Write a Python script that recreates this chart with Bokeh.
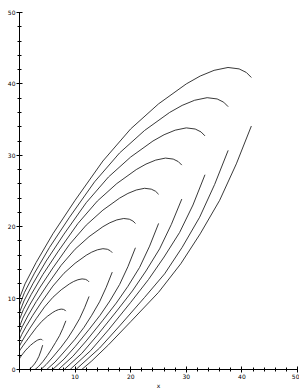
from bokeh.plotting import figure
from bokeh.models import Range1d, SingleIntervalTicker
from bokeh.embed import file_html
from bokeh.resources import INLINE

# Upper family of curves (start on the y axis, peak, then turn down)
upper_x = [
    [0, 0.1, 0.3, 0.6, 1.0, 1.5, 2.0, 2.5, 3.0, 3.25, 3.5, 3.75, 3.95, 4.08, 4.17],
    [0, 0.2, 0.6, 1.2, 2, 3, 4, 5, 6, 6.5, 7, 7.5, 7.9, 8.16, 8.34],
    [0, 0.3, 0.9, 1.8, 3, 4.5, 6, 7.5, 9, 9.75, 10.5, 11.25, 11.85, 12.24, 12.51],
    [0, 0.4, 1.2, 2.4, 4, 6, 8, 10, 12, 13, 14, 15, 15.8, 16.32, 16.68],
    [0, 0.5, 1.5, 3, 5, 7.5, 10, 12.5, 15, 16.25, 17.5, 18.75, 19.75, 20.4, 20.85],
    [0, 0.6, 1.8, 3.6, 6, 9, 12, 15, 18, 19.5, 21, 22.5, 23.7, 24.48, 25.02],
    [0, 0.7, 2.1, 4.2, 7, 10.5, 14, 17.5, 21, 22.75, 24.5, 26.25, 27.65, 28.56, 29.19],
    [0, 0.8, 2.4, 4.8, 8, 12, 16, 20, 24, 26, 28, 30, 31.6, 32.64, 33.36],
    [0, 0.9, 2.7, 5.4, 9, 13.5, 18, 22.5, 27, 29.25, 31.5, 33.75, 35.55, 36.72, 37.53],
    [0, 1, 3, 6, 10, 15, 20, 25, 30, 32.5, 35, 37.5, 39.5, 40.8, 41.7],
]
upper_y = [
    [1.5, 1.65, 1.9, 2.2, 2.6, 3.02, 3.4, 3.72, 4.0, 4.11, 4.19, 4.23, 4.21, 4.16, 4.09],
    [2.6, 2.85, 3.3, 3.95, 4.8, 5.84, 6.74, 7.44, 8, 8.22, 8.38, 8.46, 8.42, 8.32, 8.18],
    [3.3, 3.75, 4.55, 5.7, 7.11, 8.76, 10.11, 11.16, 12, 12.33, 12.57, 12.69, 12.63, 12.48, 12.27],
    [4.2, 4.9, 6.05, 7.6, 9.48, 11.68, 13.48, 14.88, 16, 16.44, 16.76, 16.92, 16.84, 16.64, 16.36],
    [5.1, 6.0, 7.5, 9.5, 11.85, 14.6, 16.85, 18.6, 20, 20.55, 20.95, 21.15, 21.05, 20.8, 20.45],
    [6, 7.2, 9, 11.4, 14.22, 17.52, 20.22, 22.32, 24, 24.66, 25.14, 25.38, 25.26, 24.96, 24.54],
    [7, 8.4, 10.5, 13.3, 16.59, 20.44, 23.59, 26.04, 28, 28.77, 29.33, 29.61, 29.47, 29.12, 28.63],
    [8, 9.6, 12, 15.2, 18.96, 23.36, 26.96, 29.76, 32, 32.88, 33.52, 33.84, 33.68, 33.28, 32.72],
    [9, 10.8, 13.5, 17.1, 21.33, 26.28, 30.33, 33.48, 36, 36.99, 37.71, 38.07, 37.89, 37.44, 36.81],
    [10, 12, 15, 19, 23.7, 29.2, 33.7, 37.2, 40, 41.1, 41.9, 42.3, 42.1, 41.6, 40.9],
]

# Lower family of curves (start on the x axis, bend upward)
lower_x = [
    [1.75, 2.2, 2.7, 3.1, 3.5, 3.85, 4.17],
    [2.8, 3.4, 4.2, 5.0, 5.8, 6.5, 7.2, 7.8, 8.34],
    [3.85, 4.8, 6.0, 7.5, 8.7, 9.75, 10.8, 11.7, 12.51],
    [4.9, 6.4, 8.0, 10.0, 11.6, 13.0, 14.4, 15.6, 16.68],
    [5.95, 8.0, 10.0, 12.5, 14.5, 16.25, 18.0, 19.5, 20.85],
    [7.0, 9.6, 12.0, 15.0, 17.4, 19.5, 21.6, 23.4, 25.02],
    [8.05, 11.2, 14.0, 17.5, 20.3, 22.75, 25.2, 27.3, 29.19],
    [9.1, 12.8, 16.0, 20.0, 23.2, 26.0, 28.8, 31.2, 33.36],
    [10.15, 14.4, 18.0, 22.5, 26.1, 29.25, 32.4, 35.1, 37.53],
    [11.2, 13.0, 16.0, 20.0, 25.0, 29.0, 32.5, 36.0, 39.0, 41.7],
]
lower_y = [
    [0, 0.32, 0.78, 1.25, 1.85, 2.6, 3.41],
    [0, 0.4, 1.1, 1.95, 2.9, 3.8, 4.74, 5.76, 6.82],
    [0, 0.7, 1.75, 3.15, 4.4, 5.7, 7.11, 8.64, 10.23],
    [0, 1.05, 2.45, 4.25, 5.9, 7.6, 9.48, 11.52, 13.64],
    [0, 1.45, 3.2, 5.6, 7.6, 9.6, 11.9, 14.4, 17.05],
    [0, 1.85, 4.0, 6.9, 9.3, 11.65, 14.3, 17.28, 20.46],
    [0, 2.25, 4.8, 8.2, 11.0, 13.8, 16.9, 20.3, 23.87],
    [0, 2.65, 5.55, 9.4, 12.6, 15.75, 19.2, 23.04, 27.28],
    [0, 3.0, 6.1, 10.1, 13.4, 17.1, 21.33, 25.92, 30.69],
    [0, 1.2, 3.45, 6.7, 10.8, 14.8, 19.0, 23.7, 28.8, 34.1],
]

x_label = "x"

p = figure(width=299, height=391,
           x_range=Range1d(0, 50), y_range=Range1d(0, 50),
           output_backend="svg", toolbar_location=None,
           min_border_left=19, min_border_right=2,
           min_border_top=12, min_border_bottom=0)

p.multi_line(xs=upper_x, ys=upper_y, line_color="#222222", line_width=0.9)
p.multi_line(xs=lower_x, ys=lower_y, line_color="#222222", line_width=0.9)

p.xgrid.visible = False
p.ygrid.visible = False
p.outline_line_color = None

for ax in (p.xaxis[0], p.yaxis[0]):
    ax.ticker = SingleIntervalTicker(interval=10, num_minor_ticks=5)
    ax.axis_line_color = "black"
    ax.major_tick_line_color = "black"
    ax.minor_tick_line_color = "black"
    ax.major_tick_in = 3
    ax.major_tick_out = 3
    ax.minor_tick_in = 2
    ax.minor_tick_out = 2
    ax.major_label_text_font = "DejaVu Sans"
    ax.major_label_text_font_size = "6px"
    ax.major_label_text_color = "black"
    ax.major_label_standoff = 1

p.xaxis.major_label_overrides = {0: ""}

p.xaxis.axis_label = x_label
p.xaxis.axis_label_text_font = "DejaVu Sans"
p.xaxis.axis_label_text_font_size = "6px"
p.xaxis.axis_label_text_font_style = "normal"
p.xaxis.axis_label_text_line_height = 1.0
p.xaxis.major_label_text_line_height = 1.0
p.xaxis.axis_label_standoff = 0
p.xaxis.axis_label_text_color = "black"

open("out.html", "w").write(file_html(p, INLINE))
